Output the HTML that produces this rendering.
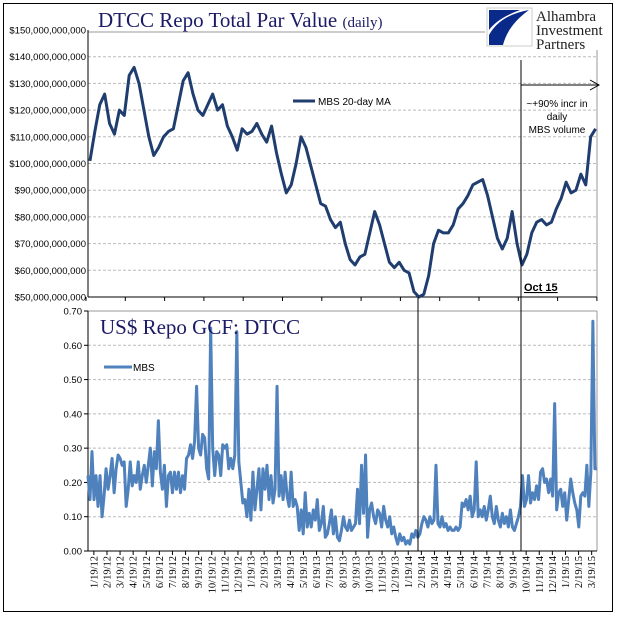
<!DOCTYPE html>
<html><head><meta charset="utf-8"><style>
html,body{margin:0;padding:0;background:#fff}
svg{display:block}
text{font-family:"Liberation Sans",sans-serif}
.serif{font-family:"Liberation Serif",serif}
</style></head><body>
<svg id="chart" width="618" height="621" viewBox="0 0 618 621">
<rect x="3.5" y="3.5" width="609" height="608" fill="#fff" stroke="#000" stroke-width="1"/>
<g id="gtop"></g>
<g id="gbot"></g>
<text x="98" y="27" class="serif" font-size="21" fill="#1a1a66">DTCC Repo Total Par Value <tspan font-size="15">(daily)</tspan></text>
<text x="100" y="334" class="serif" font-size="21" fill="#1a1a66">US$ Repo GCF: DTCC</text>
<g>
<rect x="487" y="8" width="45" height="38" fill="#fff" stroke="#ccc"/>
<path d="M489,45 L489,35 Q500,15 529,10 Q508,25 503,45 Z" fill="#0a2a8a"/>
<path d="M489,10 L520,10 Q498,18 489,30 Z" fill="#0a2a8a"/>
<text x="536" y="21" class="serif" font-size="15" fill="#222">Alhambra</text>
<text x="536" y="35" class="serif" font-size="15" fill="#222">Investment</text>
<text x="536" y="49" class="serif" font-size="15" fill="#222">Partners</text>
</g>
<g>
<line x1="521" y1="85" x2="598" y2="85" stroke="#000" stroke-width="1"/>
<path d="M590,80 L599,85 L590,90" fill="none" stroke="#000"/>
<text x="557" y="107" font-size="10" text-anchor="middle" fill="#000">~+90% incr in</text>
<text x="557" y="120" font-size="10" text-anchor="middle" fill="#000">daily</text>
<text x="557" y="133" font-size="10" text-anchor="middle" fill="#000">MBS volume</text>
<text x="524" y="291" font-size="11" font-weight="bold" fill="#000" text-decoration="underline">Oct 15</text>
</g>
</svg>
<script>
const ns="http://www.w3.org/2000/svg";
// ---- data ----
const topTicks=[50,60,70,80,90,100,110,120,130,140,150];
const botTicks=[0,0.1,0.2,0.3,0.4,0.5,0.6,0.7];
const monthLabels=["1/19/12","2/19/12","3/19/12","4/19/12","5/19/12","6/19/12","7/19/12","8/19/12","9/19/12","10/19/12","11/19/12","12/19/12","1/19/13","2/19/13","3/19/13","4/19/13","5/19/13","6/19/13","7/19/13","8/19/13","9/19/13","10/19/13","11/19/13","12/19/13","1/19/14","2/19/14","3/19/14","4/19/14","5/19/14","6/19/14","7/19/14","8/19/14","9/19/14","10/19/14","11/19/14","12/19/14","1/19/15","2/19/15","3/19/15"];
const maValues=[101,112,122,126,115,111,120,118,133,136,130,120,110,103,106,110,112,113,122,131,134,126,120,118,122,126,120,122,114,110,105,113,111,112,115,111,108,114,104,96,89,92,100,110,106,99,92,85,84,79,76,78,70,64,62,65,66,74,82,77,70,63,61,63,60,59,52,50,51,58,70,75,74,74,77,83,85,88,92,93,94,88,80,72,68,72,82,70,62,66,74,78,79,77,78,83,87,93,89,90,96,92,110,113];
const mbsValues=[0.22,0.15,0.29,0.15,0.22,0.13,0.22,0.10,0.16,0.24,0.18,0.22,0.27,0.17,0.24,0.28,0.27,0.25,0.26,0.13,0.18,0.26,0.19,0.22,0.20,0.26,0.18,0.22,0.25,0.20,0.25,0.30,0.19,0.29,0.24,0.38,0.23,0.18,0.25,0.13,0.22,0.23,0.17,0.23,0.18,0.23,0.17,0.22,0.18,0.27,0.28,0.31,0.27,0.32,0.48,0.30,0.28,0.34,0.33,0.24,0.21,0.65,0.30,0.22,0.29,0.28,0.22,0.31,0.30,0.31,0.24,0.27,0.24,0.28,0.64,0.26,0.20,0.14,0.15,0.10,0.18,0.09,0.23,0.12,0.18,0.24,0.12,0.24,0.18,0.25,0.15,0.22,0.14,0.18,0.48,0.16,0.22,0.15,0.23,0.16,0.13,0.23,0.13,0.15,0.13,0.06,0.12,0.05,0.17,0.07,0.11,0.07,0.12,0.09,0.15,0.06,0.08,0.13,0.04,0.05,0.08,0.12,0.05,0.10,0.04,0.03,0.06,0.10,0.07,0.06,0.09,0.06,0.07,0.08,0.18,0.08,0.25,0.11,0.28,0.04,0.12,0.14,0.10,0.08,0.12,0.11,0.07,0.13,0.09,0.07,0.10,0.05,0.07,0.04,0.02,0.05,0.03,0.04,0.02,0.03,0.02,0.05,0.04,0.06,0.04,0.05,0.08,0.10,0.09,0.07,0.10,0.08,0.09,0.25,0.08,0.07,0.10,0.07,0.08,0.06,0.07,0.06,0.06,0.07,0.06,0.07,0.14,0.13,0.15,0.12,0.16,0.10,0.12,0.26,0.10,0.12,0.10,0.13,0.09,0.12,0.16,0.10,0.08,0.13,0.09,0.07,0.11,0.08,0.10,0.07,0.12,0.07,0.06,0.08,0.10,0.13,0.22,0.13,0.15,0.22,0.14,0.17,0.15,0.19,0.15,0.23,0.24,0.20,0.21,0.17,0.21,0.16,0.43,0.12,0.17,0.18,0.13,0.17,0.09,0.15,0.21,0.17,0.14,0.12,0.07,0.16,0.17,0.16,0.25,0.13,0.23,0.67,0.24,0.24];
// ---- scales ----
const PL=88,PR=597;
const xM=m=>86+m*13.1;
const yTop=v=>30+(150-v)/100*267;
const yBot=v=>551-v/0.7*240;
function mk(tag,attrs,parent){const e=document.createElementNS(ns,tag);for(const k in attrs)e.setAttribute(k,attrs[k]);parent.appendChild(e);return e;}
const gTop=document.getElementById('gtop'),gBot=document.getElementById('gbot');
topTicks.forEach(v=>{
  const y=yTop(v);
  if(v>50&&v<150){const g=mk('line',{x1:PL,x2:PR,y1:y,y2:y,stroke:'#bbb','stroke-dasharray':'3,2'},gTop);
  
  }
  const t=mk('text',{x:86,y:y+3.5,'font-size':9.5,'text-anchor':'end',fill:'#000'},gTop);
  t.textContent='$'+(v*1e9).toLocaleString('en-US');
  
  
});
mk('line',{x1:PL,x2:485,y1:32,y2:32,stroke:'#999'},gTop);
mk('line',{x1:PR,x2:PR,y1:50,y2:297,stroke:'#999'},gTop);
mk('line',{x1:PL,x2:PL,y1:30,y2:297,stroke:'#000'},gTop);
mk('line',{x1:PL,x2:PR,y1:297,y2:297,stroke:'#000'},gTop);
for(let m=0;m<=39;m+=3){mk('line',{x1:xM(m),x2:xM(m),y1:297,y2:301,stroke:'#000'},gTop);}
const pTop=maValues.map((v,i)=>[xM(0.3+i*(38.6/(maValues.length-1))),yTop(v)]);
const lt=mk('polyline',{points:pTop.map(p=>p.join(',')).join(' '),fill:'none',stroke:'#1f3d6e','stroke-width':3,'stroke-linejoin':'round'},gTop);


const lg1=mk('line',{x1:293,x2:315,y1:101,y2:101,stroke:'#1f3d6e','stroke-width':3},gTop);


const lt1=mk('text',{x:318,y:105,'font-size':10,fill:'#000'},gTop);lt1.textContent='MBS 20-day MA';


botTicks.forEach(v=>{
  const y=yBot(v);
  if(v>0&&v<0.7){const g=mk('line',{x1:PL,x2:PR,y1:y,y2:y,stroke:'#bbb','stroke-dasharray':'3,2'},gBot);
  
  }
  mk('line',{x1:PL-4,x2:PL,y1:y,y2:y,stroke:'#000'},gBot);
  const t=mk('text',{x:82,y:y+3.5,'font-size':9.5,'text-anchor':'end',fill:'#000'},gBot);
  t.textContent=v.toFixed(2);
  
  
});
mk('line',{x1:PL,x2:PR,y1:311,y2:311,stroke:'#999'},gBot);
mk('line',{x1:PR,x2:PR,y1:311,y2:551,stroke:'#999'},gBot);
mk('line',{x1:PL,x2:PL,y1:311,y2:551,stroke:'#000'},gBot);
mk('line',{x1:PL,x2:PR,y1:551,y2:551,stroke:'#000'},gBot);
monthLabels.forEach((s,i)=>{
  const x=xM(i+0.6);
  mk('line',{x1:x,x2:x,y1:551,y2:555,stroke:'#000'},gBot);
  const t=mk('text',{x:0,y:0,'font-size':10.5,'text-anchor':'end',transform:`translate(${x+3.5},556) rotate(-90)`,fill:'#000',class:'serif'},gBot);
  t.textContent=s;
  
  
});
const pBot=mbsValues.map((v,i)=>[xM(0.15+i*(38.85/(mbsValues.length-1))),yBot(v)]);
const lb=mk('polyline',{points:pBot.map(p=>p.join(',')).join(' '),fill:'none',stroke:'#4f81bd','stroke-width':3,'stroke-linejoin':'round'},gBot);


const lg2=mk('line',{x1:104,x2:132,y1:367,y2:367,stroke:'#4f81bd','stroke-width':3},gBot);


const lt2=mk('text',{x:133,y:371,'font-size':10,fill:'#000'},gBot);lt2.textContent='MBS';


const v1=mk('line',{x1:418,x2:418,y1:297,y2:551,stroke:'#000'},gBot);


const v2=mk('line',{x1:521,x2:521,y1:60,y2:551,stroke:'#000'},gBot);


</script>
</body></html>
